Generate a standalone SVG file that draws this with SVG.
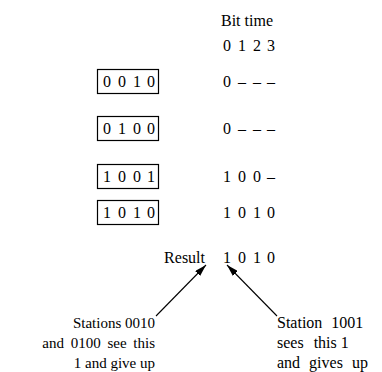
<svg xmlns="http://www.w3.org/2000/svg" width="382" height="372" viewBox="0 0 382 372">
<style>
text{font-family:'Liberation Serif','Times New Roman',serif;font-size:16px;fill:#000}
.m{text-anchor:middle}
.n{font-size:15px}
.box{fill:none;stroke:#000;stroke-width:1.2}
.ln{stroke:#000;stroke-width:1.1;fill:none}
</style>
<defs>
<marker id="ah" viewBox="0 0 12 7" refX="12" refY="3.5" markerWidth="12" markerHeight="7" markerUnits="userSpaceOnUse" orient="auto">
<path d="M0,0 L12,3.5 L0,7 Z" fill="#000"/>
</marker>
</defs>
<g id="header">
<text x="247" y="26" class="m">Bit time</text>
<text class="m" y="51"><tspan x="227">0</tspan><tspan x="242">1</tspan><tspan x="257">2</tspan><tspan x="271">3</tspan></text>
</g>
<g id="station1">
<rect class="box" x="97.5" y="69.5" width="61" height="24"/>
<text class="m" y="87"><tspan x="107">0</tspan><tspan x="122">0</tspan><tspan x="137">1</tspan><tspan x="151">0</tspan></text>
<text class="m" y="87"><tspan x="227">0</tspan><tspan x="242">–</tspan><tspan x="257">–</tspan><tspan x="271">–</tspan></text>
</g>
<g id="station2">
<rect class="box" x="97.5" y="116.5" width="61" height="24"/>
<text class="m" y="134"><tspan x="107">0</tspan><tspan x="122">1</tspan><tspan x="137">0</tspan><tspan x="151">0</tspan></text>
<text class="m" y="134"><tspan x="227">0</tspan><tspan x="242">–</tspan><tspan x="257">–</tspan><tspan x="271">–</tspan></text>
</g>
<g id="station3">
<rect class="box" x="97.5" y="164.5" width="61" height="24"/>
<text class="m" y="182"><tspan x="107">1</tspan><tspan x="122">0</tspan><tspan x="137">0</tspan><tspan x="151">1</tspan></text>
<text class="m" y="182"><tspan x="227">1</tspan><tspan x="242">0</tspan><tspan x="257">0</tspan><tspan x="271">–</tspan></text>
</g>
<g id="station4">
<rect class="box" x="97.5" y="200.5" width="61" height="24"/>
<text class="m" y="218"><tspan x="107">1</tspan><tspan x="122">0</tspan><tspan x="137">1</tspan><tspan x="151">0</tspan></text>
<text class="m" y="218"><tspan x="227">1</tspan><tspan x="242">0</tspan><tspan x="257">1</tspan><tspan x="271">0</tspan></text>
</g>
<g id="result">
<text x="205" y="263" text-anchor="end">Result</text>
<text class="m" y="263"><tspan x="227">1</tspan><tspan x="242">0</tspan><tspan x="257">1</tspan><tspan x="271">0</tspan></text>
</g>
<g id="connectors">
<line class="ln" x1="156" y1="316" x2="206" y2="265" marker-end="url(#ah)"/>
<line class="ln" x1="277" y1="316" x2="227" y2="265" marker-end="url(#ah)"/>
</g>
<g id="note-left">
<text class="n" text-anchor="end"><tspan x="155" y="328">Stations 0010</tspan><tspan x="155" y="348" word-spacing="3">and 0100 see this</tspan><tspan x="155" y="368">1 and give up</tspan></text>
</g>
<g id="note-right">
<text><tspan x="277" y="328" word-spacing="5">Station 1001</tspan><tspan x="277" y="348"><tspan word-spacing="6">sees </tspan>this 1</tspan><tspan x="277" y="368" word-spacing="5">and gives up</tspan></text>
</g>
</svg>
